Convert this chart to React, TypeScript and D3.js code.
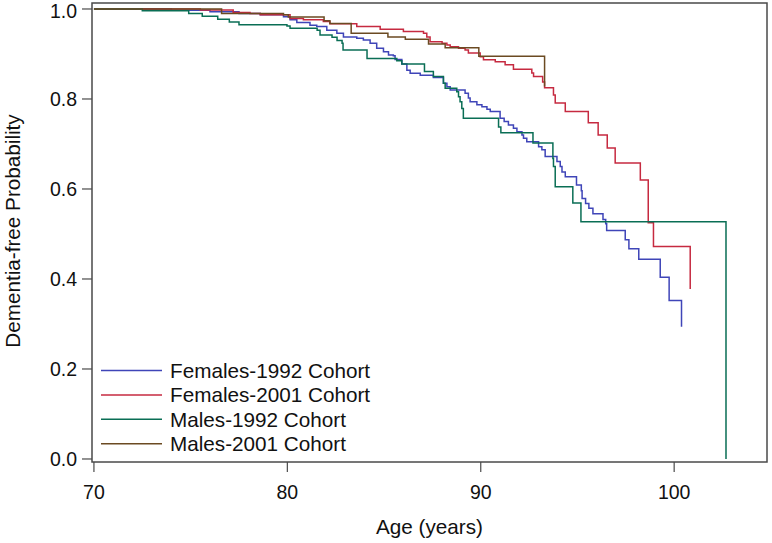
import React from "react";
import * as d3 from "d3";

// ---- Data (age in years, dementia-free probability) ----
const females1992: [number, number][] = [
  [70, 1], [74.0, 0.997], [76.0, 0.994], [77.5, 0.99], [78.6, 0.987], [79.8, 0.983],
  [80.14, 0.976], [80.49, 0.97], [81.17, 0.964], [81.52, 0.961], [82.04, 0.953],
  [82.56, 0.946], [82.9, 0.938], [83.59, 0.935], [83.93, 0.931], [84.28, 0.924],
  [84.62, 0.913], [84.97, 0.905], [85.23, 0.898], [85.48, 0.896], [85.57, 0.888],
  [85.92, 0.878], [86.18, 0.864], [86.35, 0.857], [86.87, 0.853], [87.55, 0.848],
  [88.07, 0.835], [88.25, 0.827], [88.42, 0.82], [89.19, 0.813], [89.36, 0.802],
  [89.45, 0.794], [89.8, 0.787], [90.06, 0.783], [90.32, 0.777], [90.49, 0.772],
  [91.0, 0.757], [91.21, 0.75], [91.43, 0.742], [91.69, 0.735], [91.87, 0.727],
  [92.13, 0.72], [92.21, 0.713], [92.38, 0.705], [92.99, 0.694], [93.16, 0.687],
  [93.33, 0.672], [93.94, 0.661], [94.11, 0.65], [94.2, 0.638], [94.37, 0.627],
  [94.95, 0.609], [95.2, 0.596], [95.24, 0.579], [95.42, 0.568], [95.59, 0.557],
  [95.8, 0.545], [96.32, 0.532], [96.46, 0.523], [96.51, 0.508], [97.47, 0.487],
  [97.66, 0.467], [98.17, 0.444], [99.28, 0.404], [99.74, 0.352], [100.38, 0.294],
];

const females2001: [number, number][] = [
  [70, 1], [75.5, 0.998], [77.2, 0.992], [78.07, 0.99], [78.6, 0.987], [80.14, 0.979],
  [80.83, 0.976], [81.86, 0.972], [82.2, 0.967], [83.59, 0.961], [84.8, 0.955],
  [86.0, 0.95], [87.04, 0.946], [87.21, 0.938], [87.38, 0.927], [88.0, 0.924],
  [88.25, 0.92], [88.42, 0.916], [88.85, 0.913], [89.19, 0.909], [89.36, 0.902],
  [89.97, 0.894], [90.14, 0.887], [90.75, 0.883], [91.26, 0.876], [91.69, 0.866],
  [92.64, 0.858], [92.73, 0.85], [93.2, 0.838], [93.3, 0.825], [93.76, 0.809],
  [93.85, 0.791], [94.37, 0.772], [95.56, 0.747], [96.07, 0.72], [96.54, 0.691],
  [96.95, 0.658], [98.25, 0.62], [98.66, 0.525], [98.93, 0.472], [100.83, 0.378],
];

const males1992: [number, number][] = [
  [70, 1], [72.5, 0.996], [74.9, 0.99], [75.6, 0.984], [76.4, 0.977], [77.0, 0.971],
  [77.5, 0.965], [79.98, 0.962], [80.14, 0.957], [81.54, 0.953], [81.69, 0.942],
  [82.31, 0.937], [82.57, 0.93], [82.83, 0.924], [82.88, 0.909], [84.12, 0.89],
  [85.66, 0.885], [85.92, 0.878], [87.09, 0.861], [87.55, 0.85], [88.07, 0.835],
  [88.16, 0.824], [88.76, 0.816], [88.85, 0.805], [88.93, 0.794], [89.02, 0.779],
  [89.1, 0.757], [90.92, 0.738], [91.04, 0.725], [92.7, 0.702], [93.73, 0.668],
  [93.76, 0.65], [93.85, 0.605], [94.76, 0.569], [95.18, 0.527], [102.68, 0],
];

const males2001: [number, number][] = [
  [70, 1], [76.6, 0.99], [79.8, 0.987], [80.05, 0.982], [81.9, 0.974], [82.2, 0.968],
  [83.3, 0.946], [85.2, 0.938], [86.1, 0.933], [87.3, 0.922], [88.16, 0.914],
  [89.9, 0.895], [93.3, 0.828],
];

const seriesNames = ["Females-1992 Cohort", "Females-2001 Cohort", "Males-1992 Cohort", "Males-2001 Cohort"];
const seriesData = [females1992, females2001, males1992, males2001];
const seriesColors = ["#3f45b8", "#c62a40", "#0a6e55", "#6b4a22"];

const xTicks = [70, 80, 90, 100];
const yTicks = [0, 0.2, 0.4, 0.6, 0.8, 1.0];

const xTitle = "Age (years)";
const yTitle = "Dementia-free Probability";

export default function App() {
  const W = 772, H = 543;
  const left = 92, right = 767, top = 3, bottom = 462;
  const x = d3.scaleLinear().domain([69.9, 104.8]).range([left, right]);
  const y = d3.scaleLinear().domain([-0.0067, 1.0133]).range([bottom, top]);
  const line = d3
    .line<[number, number]>()
    .x((d) => x(d[0]))
    .y((d) => y(d[1]))
    .curve(d3.curveStepAfter);
  const font = "'Liberation Sans', Arial, sans-serif";
  const axisColor = "#4a4a4a";

  return (
    <svg
      width={W}
      height={H}
      style={{ position: "absolute", left: 0, top: 0, background: "#fff" }}
      fontFamily={font}
    >
      <rect x={0} y={0} width={W} height={H} fill="#fff" />
      {/* series */}
      {seriesData.map((d, i) => (
        <path key={i} d={line(d) || ""} fill="none" stroke={seriesColors[i]} strokeWidth={1.5} />
      ))}
      {/* frame */}
      <rect x={left} y={top} width={right - left} height={bottom - top} fill="none" stroke={axisColor} strokeWidth={1.5} />
      {/* y ticks */}
      {yTicks.map((t) => (
        <g key={t}>
          <line x1={left - 10} x2={left} y1={y(t)} y2={y(t)} stroke={axisColor} strokeWidth={1.2} />
          <text x={77} y={Math.max(y(t) + 7, 18)} textAnchor="end" fontSize={19.5} fill="#111">
            {d3.format(".1f")(t)}
          </text>
        </g>
      ))}
      {/* x ticks */}
      {xTicks.map((t) => (
        <g key={t}>
          <line x1={x(t)} x2={x(t)} y1={bottom} y2={bottom + 10} stroke={axisColor} strokeWidth={1.2} />
          <text x={x(t)} y={499} textAnchor="middle" fontSize={19.5} fill="#111">
            {t}
          </text>
        </g>
      ))}
      <text x={(left + right) / 2} y={534} textAnchor="middle" fontSize={20.7} fill="#111">
        {xTitle}
      </text>
      <text
        transform={`translate(20, 231) rotate(-90)`}
        textAnchor="middle"
        fontSize={20.7}
        fill="#111"
      >
        {yTitle}
      </text>
      {/* legend */}
      {seriesNames.map((n, i) => {
        const ly = 370.5 + i * 24.4;
        return (
          <g key={n}>
            <line x1={101} x2={162} y1={ly} y2={ly} stroke={seriesColors[i]} strokeWidth={1.5} />
            <text x={170} y={ly} dy="0.36em" fontSize={20.7} fill="#111">
              {n}
            </text>
          </g>
        );
      })}
    </svg>
  );
}
